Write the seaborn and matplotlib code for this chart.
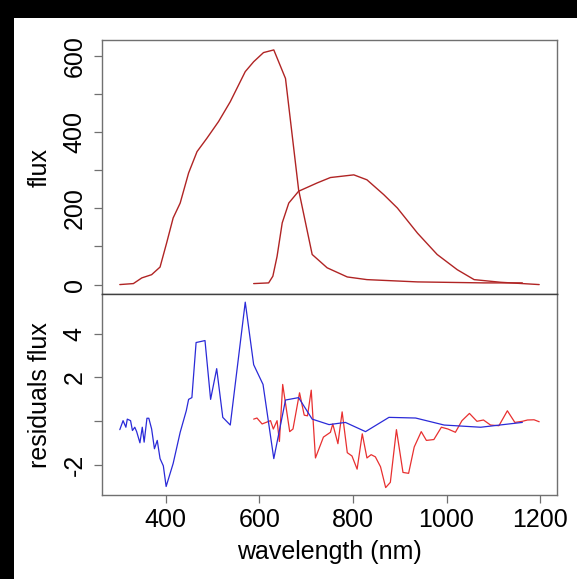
import numpy as np
import pandas as pd
import matplotlib
matplotlib.use("Agg")
import matplotlib.pyplot as plt
import seaborn as sns

# flux of the hot star
hot_wave = [302, 331, 349, 370, 388, 402, 416, 431, 449, 467, 488, 513, 538, 570,
            588, 609, 631, 656, 684, 713, 745, 788, 830, 938, 1080, 1162]
hot_flux = [0, 2.6, 17.5, 26, 46, 109, 175, 214, 293, 349, 384, 428, 480, 559,
            585, 609, 616, 541, 249, 79, 44, 20, 13, 7, 4.4, 4.4]

# flux of the cool star
cool_wave = [588, 620, 629, 638, 649, 663, 684, 724, 752, 802, 830, 866, 895, 938,
             980, 1023, 1059, 1116, 1198]
cool_flux = [2.6, 4.4, 22, 74, 162, 214, 245, 267, 281, 288, 275, 236, 201, 135,
             79, 39, 13, 6, 0]

# residuals, hot star (blue)
res_hot_wave = [302, 309, 315, 318, 325, 329, 334, 338, 345, 350, 354, 360, 364, 370,
                376, 382, 388, 395, 401, 416, 431, 444, 449, 456, 465, 484, 496, 509,
                522, 538, 570, 588, 608, 631, 656, 684, 713, 749, 784, 827, 877, 934,
                995, 1073, 1162]
res_hot = [-0.38, 0.03, -0.27, 0.1, 0.03, -0.42, -0.27, -0.47, -0.98, -0.27, -0.95,
           0.14, 0.14, -0.35, -1.25, -0.87, -1.7, -2.03, -2.97, -1.92, -0.5, 0.48,
           1.0, 1.08, 3.59, 3.68, 1.0, 2.4, 0.18, -0.17, 5.43, 2.58, 1.68, -1.7,
           0.97, 1.08, 0.1, -0.15, -0.05, -0.47, 0.18, 0.15, -0.17, -0.27, -0.05]

# residuals, cool star (red)
res_cool_wave = [588, 595, 606, 624, 630, 638, 643, 650, 665, 672, 686, 696, 703, 711,
                 720, 737, 752, 757, 768, 777, 788, 798, 809, 820, 830, 839, 848, 859,
                 870, 880, 893, 907, 919, 931, 946, 957, 973, 989, 1003, 1019, 1033,
                 1049, 1065, 1079, 1094, 1112, 1130, 1146, 1162, 1173, 1187, 1198]
res_cool = [0.1, 0.15, -0.12, 0.03, -0.35, 0.03, -0.92, 1.68, -0.47, -0.35, 1.3, 0.28,
            0.25, 1.42, -1.67, -0.72, -0.5, -0.12, -1.02, 0.43, -1.43, -1.58, -2.18,
            -0.57, -1.67, -1.52, -1.62, -2.07, -3.02, -2.78, -0.38, -2.33, -2.37,
            -1.17, -0.47, -0.87, -0.83, -0.27, -0.35, -0.5, 0.03, 0.36, 0.0, 0.06,
            -0.17, -0.2, 0.48, -0.05, 0.0, 0.06, 0.07, -0.02]

flux_ticks = [0, 100, 200, 300, 400, 500, 600]
flux_labels = ["0", "", "200", "", "400", "", "600"]
res_ticks = [-2, 0, 2, 4]
res_labels = ["-2", "", "2", "4"]
wave_ticks = [400, 600, 800, 1000, 1200]

sns.set_theme(style="white")
plt.rcParams["font.family"] = ["Liberation Sans", "DejaVu Sans"]
plt.rcParams["text.color"] = "black"
plt.rcParams["axes.labelcolor"] = "black"

frame = "#707070"
fig = plt.figure(figsize=(5.77, 5.79), dpi=100, facecolor="black")
fig.patches.append(plt.Rectangle((14 / 577, 0), 1, 561 / 579, transform=fig.transFigure,
                                 facecolor="white", edgecolor="none", zorder=-1))

ax1 = fig.add_axes([0.1768, 0.4914, 0.7885, 0.4395])
ax2 = fig.add_axes([0.1768, 0.1450, 0.7885, 0.3464])

top = pd.DataFrame({"w": hot_wave, "f": hot_flux})
top2 = pd.DataFrame({"w": cool_wave, "f": cool_flux})
sns.lineplot(data=top, x="w", y="f", ax=ax1, color="#b02424", lw=1.0, sort=False, estimator=None)
sns.lineplot(data=top2, x="w", y="f", ax=ax1, color="#b02424", lw=1.0, sort=False, estimator=None)

bot = pd.DataFrame({"w": res_hot_wave, "r": res_hot})
bot2 = pd.DataFrame({"w": res_cool_wave, "r": res_cool})
sns.lineplot(data=bot2, x="w", y="r", ax=ax2, color="#e83030", lw=0.9, sort=False, estimator=None)
sns.lineplot(data=bot, x="w", y="r", ax=ax2, color="#2a2ad8", lw=0.9, sort=False, estimator=None)

for ax in (ax1, ax2):
    ax.set_xlim(264, 1236)
    for s in ax.spines.values():
        s.set_color(frame)
        s.set_linewidth(1.0)
    ax.tick_params(axis="y", which="major", length=6, width=0.9, color=frame,
                   labelcolor="black", labelsize=18, pad=5, left=True)

ax1.set_ylim(-26, 642)
ax1.set_yticks(flux_ticks)
ax1.set_yticklabels(flux_labels, rotation=90, va="center")
ax1.set_xticks([])
ax1.set_xlabel("")
ax1.set_ylabel("flux", fontsize=18, labelpad=8, color="black")

ax2.set_ylim(-3.36, 5.78)
ax2.set_yticks(res_ticks)
ax2.set_yticklabels(res_labels, rotation=90, va="center")
ax2.set_xticks(wave_ticks)
ax2.tick_params(axis="x", length=6, width=0.9, color=frame, labelcolor="black",
                labelsize=18, pad=3, bottom=True)
ax2.set_xlabel("wavelength (nm)", fontsize=18, labelpad=6, color="black")
ax2.set_ylabel("residuals flux", fontsize=18, labelpad=8, color="black")
ax2.spines["top"].set_color("#404040")
ax1.spines["bottom"].set_color("#404040")

fig.savefig("out.png", dpi=100, facecolor=fig.get_facecolor())
